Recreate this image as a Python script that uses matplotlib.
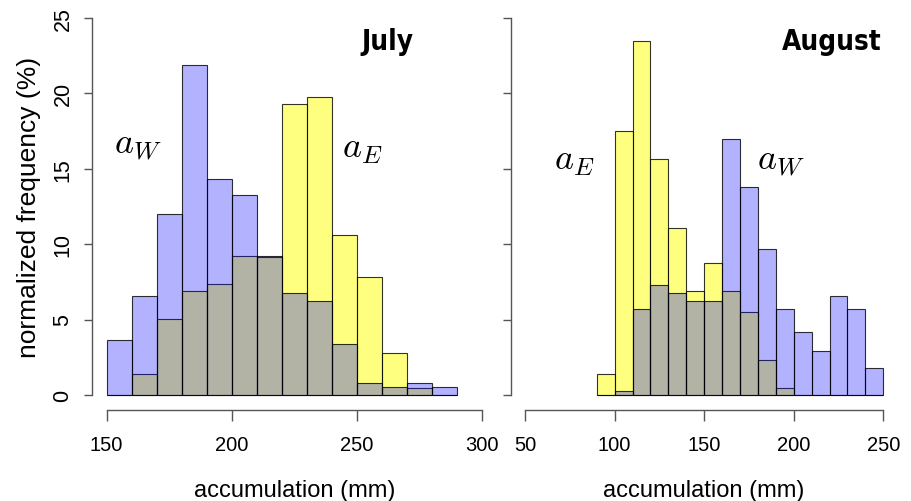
import matplotlib
matplotlib.use('Agg')
import matplotlib.pyplot as plt
import numpy as np

plt.rcParams['mathtext.fontset'] = 'cm'

# July histograms (bin left edges, % per 10 mm bin)
jul_edges = [150, 160, 170, 180, 190, 200, 210, 220, 230, 240, 250, 260, 270, 280]
jul_west = [3.65, 6.54, 12.0, 21.9, 14.35, 13.28, 9.2, 6.76, 6.26, 3.38, 0.77, 0.55, 0.77, 0.5]
jul_east = [0, 1.37, 5.04, 6.9, 7.36, 9.2, 9.15, 19.32, 19.78, 10.59, 7.85, 2.76, 0.44, 0]

# August histograms
aug_edges = [90, 100, 110, 120, 130, 140, 150, 160, 170, 180, 190, 200, 210, 220, 230, 240]
aug_east = [1.37, 17.48, 23.5, 15.63, 11.05, 6.9, 8.73, 6.9, 5.53, 2.32, 0.49, 0, 0, 0, 0, 0]
aug_west = [0, 0.24, 5.72, 7.32, 6.79, 6.23, 6.23, 16.95, 13.8, 9.66, 5.72, 4.2, 2.9, 6.54, 5.72, 1.81]

jul_xticks = [150, 200, 250, 300]
aug_xticks = [50, 100, 150, 200, 250]
yticks = [0, 5, 10, 15, 20, 25]

sans = 'Liberation Sans'
axcol = '#555555'

fig = plt.figure(figsize=(9.12, 5.02), dpi=100)
ax1 = fig.add_axes([0.1005, 0.1813, 0.4444, 0.8108])
ax2 = fig.add_axes([0.56, 0.1813, 0.4242, 0.8108])


def panel(ax, edges, east, west, xticks, xlim):
    ax.bar(edges, east, width=10, align='edge', color=(1, 1, 0, 0.5),
           edgecolor=(0, 0, 0, 0.8), linewidth=0.8)
    ax.bar(edges, west, width=10, align='edge', color=(0, 0, 1, 0.3),
           edgecolor=(0, 0, 0, 0.8), linewidth=0.8)
    ax.set_xlim(*xlim)
    ax.set_ylim(-1, 26)
    for s in ['top', 'right']:
        ax.spines[s].set_visible(False)
    ax.spines['left'].set_bounds(0, 25)
    ax.spines['bottom'].set_bounds(xticks[0], xticks[-1])
    for s in ['left', 'bottom']:
        ax.spines[s].set_color(axcol)
        ax.spines[s].set_linewidth(1)
    ax.set_xticks(xticks)
    ax.set_yticks(yticks)
    ax.tick_params(axis='x', length=8, width=1, color=axcol, pad=10)
    ax.tick_params(axis='y', length=6, width=1, color=axcol, pad=7)
    ax.set_xticklabels([str(t) for t in xticks], family=sans, fontsize=14.5)
    ax.set_xlabel('accumulation (mm)', family=sans, fontsize=17, labelpad=18)


panel(ax1, jul_edges, jul_east, jul_west, jul_xticks, (144, 306))
panel(ax2, aug_edges, aug_east, aug_west, aug_xticks, (42, 258))

ax1.set_yticklabels([str(t) for t in yticks], family=sans,
                    fontsize=15.5, rotation=90, va='center')
ax2.set_yticklabels([])
ax1.set_ylabel('normalized frequency (%)', family=sans, fontsize=19, labelpad=8)

ax1.text(272.8, 23.5, 'July', ha='right', va='center', fontsize=20,
         fontweight='bold', family='DejaVu Sans', fontstretch='condensed')
ax2.text(249.3, 23.5, 'August', ha='right', va='center', fontsize=20,
         fontweight='bold', family='DejaVu Sans', fontstretch='condensed')

ax1.text(162.3, 16.6, '$a_W$', ha='center', va='center', fontsize=26)
ax1.text(252.2, 16.4, '$a_E$', ha='center', va='center', fontsize=26)
ax2.text(77.4, 15.6, '$a_E$', ha='center', va='center', fontsize=26)
ax2.text(192.7, 15.5, '$a_W$', ha='center', va='center', fontsize=26)

fig.savefig('out.png', dpi=100)
